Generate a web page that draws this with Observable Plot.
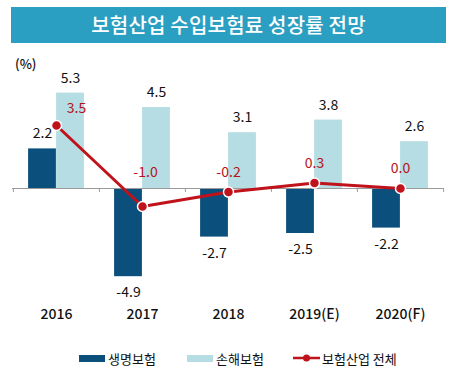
<!DOCTYPE html>
<html>
<head>
<meta charset="utf-8">
<script src="https://cdn.jsdelivr.net/npm/d3@7"></script>
<script src="https://cdn.jsdelivr.net/npm/@observablehq/plot@0.6"></script>
<style>
  html, body { margin: 0; padding: 0; background: #fff; }
  body { width: 460px; height: 389px; position: relative; overflow: hidden;
         font-family: "Noto Sans CJK KR", "Noto Sans", sans-serif; color: #111; }
  #title { position: absolute; left: 11px; top: 7px; width: 435px; height: 36px;
           background: #2b9fc2; color: #fff; font-size: 20px; font-weight: 500;
           text-align: center; line-height: 36px; letter-spacing: 0.2px; }
  #unit { position: absolute; left: 15px; top: 54px; font-size: 13px; font-weight: 500; }
  #chart { position: absolute; left: 0; top: 50px; }
  #legend { position: absolute; top: 349px; left: 0; width: 460px; height: 18px; font-size: 13px; }
  .item { position: absolute; top: 0; display: flex; align-items: center; height: 18px; }
  .sw { display: inline-block; width: 26px; height: 7px; margin-right: 3px; }
  .lsw { width: 27px; height: 18px; margin-right: 2px; }
</style>
</head>
<body>
<div id="title">보험산업 수입보험료 성장률 전망</div>
<div id="unit">(%)</div>
<div id="chart"></div>
<div id="legend"></div>
<script>
const years = ["2016", "2017", "2018", "2019(E)", "2020(F)"];
const life = [2.2, -4.9, -2.7, -2.5, -2.2];
const nonlife = [5.3, 4.5, 3.1, 3.8, 2.6];
const total = [3.5, -1.0, -0.2, 0.3, 0.0];
const seriesNames = ["생명보험", "손해보험", "보험산업 전체"];
const colors = ["#0b4f7c", "#b6dde3", "#c0121b"];

const rows = years.map((y, i) => ({year: y, life: life[i], nonlife: nonlife[i], total: total[i]}));
const fmt = v => v.toFixed(1);

const W = 460, H = 290;
const ml = 12, mr = 17;
const bw = (W - ml - mr) / years.length;
const half = bw / 2;
const outer = (bw - 56) / 2;

const chart = Plot.plot({
  width: W, height: H,
  marginLeft: ml, marginRight: mr, marginTop: 3, marginBottom: 35,
  style: {fontFamily: '"Noto Sans CJK KR", "Noto Sans", sans-serif', background: "transparent"},
  x: {type: "band", domain: years, padding: 0},
  y: {domain: [-6.5, 7.5], axis: null},
  marks: [
    Plot.barY(rows, {x: "year", y: "life", fill: colors[0], insetLeft: outer, insetRight: half}),
    Plot.barY(rows, {x: "year", y: "nonlife", fill: colors[1], insetLeft: half, insetRight: outer}),
    Plot.ruleY([0], {stroke: "#9a9a9a", strokeWidth: 1}),
    Plot.ruleX(rows, {x: "year", y1: 0, y2: -0.22, dx: -half, stroke: "#9a9a9a"}),
    Plot.ruleX(rows.slice(-1), {x: "year", y1: 0, y2: -0.22, dx: half, stroke: "#9a9a9a"}),
    Plot.axisX({tickSize: 0, tickPadding: 4, fontSize: 14, fontWeight: 500, fill: "#111", label: null}),
    Plot.line(rows, {x: "year", y: "total", stroke: colors[2], strokeWidth: 3}),
    Plot.dot(rows, {x: "year", y: "total", r: 5, fill: colors[2], stroke: "#fff", strokeWidth: 1.5}),
    Plot.text(rows.filter(d => d.life >= 0), {x: "year", y: "life", text: d => fmt(d.life), dx: -14, dy: -15, fontSize: 14, fill: "#111"}),
    Plot.text(rows.filter(d => d.life < 0), {x: "year", y: "life", text: d => fmt(d.life), dx: -14, dy: 16, fontSize: 14, fill: "#111"}),
    Plot.text(rows, {x: "year", y: "nonlife", text: d => fmt(d.nonlife), dx: 14, dy: -15, fontSize: 14, fill: "#111"}),
    Plot.text(rows.slice(0, 1), {x: "year", y: "total", text: d => fmt(d.total), dx: 20, dy: -17, fontSize: 14, fill: "#b5121b"}),
    Plot.text(rows.slice(1, 2), {x: "year", y: "total", text: d => fmt(d.total), dx: 3, dy: -34, fontSize: 14, fill: "#b5121b"}),
    Plot.text(rows.slice(2), {x: "year", y: "total", text: d => fmt(d.total), dx: 0, dy: -20, fontSize: 14, fill: "#b5121b"})
  ]
});
document.getElementById("chart").appendChild(chart);

// legend
const legend = document.getElementById("legend");
const lefts = [79, 187, 293];
seriesNames.forEach((name, i) => {
  const it = document.createElement("div");
  it.className = "item";
  it.style.left = lefts[i] + "px";
  if (i < 2) {
    const sw = document.createElement("span");
    sw.className = "sw";
    sw.style.background = colors[i];
    it.appendChild(sw);
  } else {
    const ns = "http://www.w3.org/2000/svg";
    const s = document.createElementNS(ns, "svg");
    s.setAttribute("class", "lsw");
    s.setAttribute("width", 27); s.setAttribute("height", 18);
    const l = document.createElementNS(ns, "line");
    l.setAttribute("x1", 0); l.setAttribute("x2", 27); l.setAttribute("y1", 9); l.setAttribute("y2", 9);
    l.setAttribute("stroke", colors[2]); l.setAttribute("stroke-width", 2.5);
    const c = document.createElementNS(ns, "circle");
    c.setAttribute("cx", 13.5); c.setAttribute("cy", 9); c.setAttribute("r", 3.5);
    c.setAttribute("fill", colors[2]);
    s.appendChild(l); s.appendChild(c);
    it.appendChild(s);
  }
  const t = document.createElement("span");
  t.textContent = name;
  it.appendChild(t);
  legend.appendChild(it);
});
</script>
</body>
</html>
